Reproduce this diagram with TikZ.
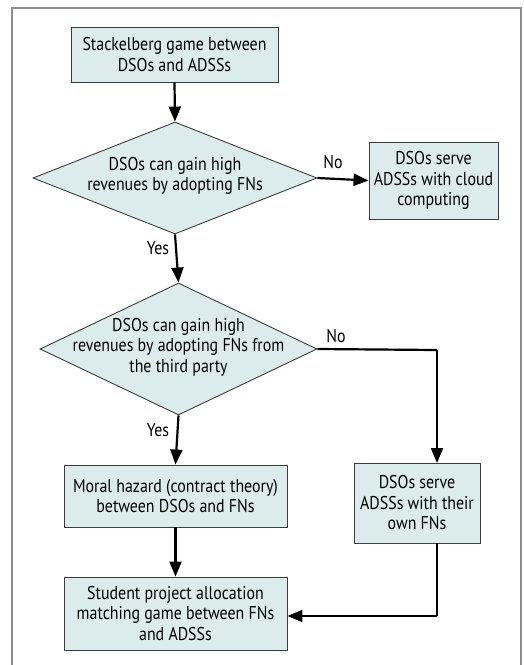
\documentclass[tikz,border=0pt]{standalone}
\usepackage{fontspec}
\setmainfont[FakeStretch=0.86]{PT Sans}
\usetikzlibrary{arrows.meta,shapes.geometric}
\definecolor{boxfill}{RGB}{220,236,236}
\definecolor{boxline}{RGB}{60,60,60}
\definecolor{framegray}{RGB}{140,140,140}
\tikzset{
  stepbox/.style={draw=boxline, line width=0.9pt, fill=boxfill, inner sep=0pt},
  decision/.style={diamond, draw=boxline, line width=0.9pt, fill=boxfill, inner sep=0pt},
  label/.style={align=center, font=\fontsize{18.5}{20.5}\selectfont, inner sep=0pt},
  flow/.style={line width=2.2pt, -{Triangle[length=15pt,width=12pt]}},
  plain/.style={line width=2.2pt},
  tag/.style={font=\fontsize{18.5}{20.5}\selectfont, inner sep=0pt}
}
\begin{document}
\begin{tikzpicture}[x=1pt,y=-1pt]
\useasboundingbox (0,0) rectangle (524,665);
% outer frame, open at the bottom
\draw[framegray, line width=1.6pt] (12,665) -- (12,8) -- (521,8) -- (521,665);

% boxes
\node[stepbox, minimum width=207pt, minimum height=55pt] (start) at (174.5,54.5) {};
\node[label] at (start) {Stackelberg game between\\DSOs and ADSSs};

\node[decision, minimum width=284pt, minimum height=112pt] (q1) at (175,178) {};
\node[label] at (175,176) {DSOs can gain high\\revenues by adopting FNs};

\node[stepbox, minimum width=129pt, minimum height=77pt] (cloud) at (433.5,180.5) {};
\node[label] at (cloud) {DSOs serve\\ADSSs with cloud\\computing};

\node[decision, minimum width=277pt, minimum height=132pt] (q2) at (178.5,349) {};
\node[label] at (178.5,347) {DSOs can gain high\\revenues by adopting FNs from\\the third party};

\node[stepbox, minimum width=223pt, minimum height=62pt] (moral) at (175.5,496) {};
\node[label] at (moral) {Moral hazard (contract theory)\\between DSOs and FNs};

\node[stepbox, minimum width=126pt, minimum height=80pt] (own) at (417,503) {};
\node[label] at (own) {DSOs serve\\ADSSs with their\\own FNs};

\node[stepbox, minimum width=223pt, minimum height=73pt] (spa) at (175.5,613.5) {};
\node[label] at (spa) {Student project allocation\\matching game between FNs\\and ADSSs};

% routing points
\coordinate (ownTop) at (437,463);
\coordinate (ownBot) at (437,543);
\coordinate (turnA) at (437,350);
\coordinate (turnB) at (437,616);

% connectors
\draw[flow] (start.south) -- (q1.north);
\draw[flow] (q1.east) -- (cloud.west);
\draw[flow] (q1.south) -- (q2.north);
\draw[plain] (q2.east) -- (turnA);
\draw[flow] (turnA) -- (ownTop);
\draw[flow] (q2.south) -- (moral.north);
\draw[flow] (moral.south) -- (spa.north);
\draw[plain] (ownBot) -- (turnB);
\draw[flow] (turnB) -- (spa.east |- turnB);

% branch tags
\node[tag] (no1) at (333,162) {No};
\node[tag] (yes1) at (158,248) {Yes};
\node[tag] (no2) at (336,336) {No};
\node[tag] (yes2) at (158,430) {Yes};
\end{tikzpicture}
\end{document}
